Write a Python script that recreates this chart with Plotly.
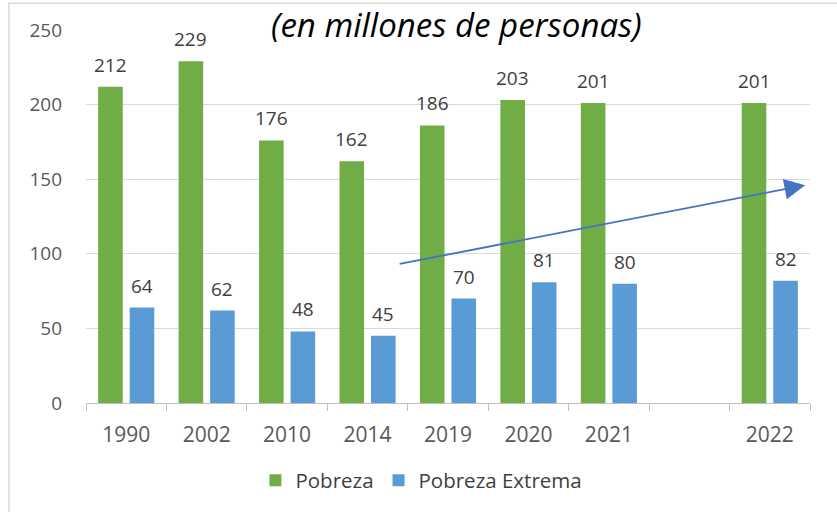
import plotly.graph_objects as go

categories = ["1990", "2002", "2010", "2014", "2019", "2020", "2021", "", "2022"]
pobreza = [212, 229, 176, 162, 186, 203, 201, None, 201]
pobreza_extrema = [64, 62, 48, 45, 70, 81, 80, None, 82]

title_text = "(en millones de personas)"
series_names = ["Pobreza", "Pobreza Extrema"]
colors = ["#70AD47", "#5B9BD5"]

# trend arrow (data coordinates: category index, value)
arrow_tail = (3.38, 93)
arrow_head = (8.44, 146)

positions = list(range(len(categories)))
boundaries = [p - 0.5 for p in positions] + [positions[-1] + 0.5]

FONT = "Open Sans"
fig = go.Figure()
for name, vals, col in zip(series_names, [pobreza, pobreza_extrema], colors):
    fig.add_trace(go.Bar(x=positions, y=vals, name=name, marker_color=col,
                         marker_line_width=0))

annotations = []
shift = 15.75
for vals, xs in [(pobreza, -shift), (pobreza_extrema, shift)]:
    for p, v in zip(positions, vals):
        if v is None:
            continue
        annotations.append(dict(x=p, y=v, xref="x", yref="y", text=str(v),
                                showarrow=False, xshift=xs, yshift=7,
                                yanchor="bottom",
                                font=dict(family=FONT, size=19, color="#404040")))

annotations.append(dict(x=arrow_head[0], y=arrow_head[1], ax=arrow_tail[0], ay=arrow_tail[1],
                        xref="x", yref="y", axref="x", ayref="y", text="",
                        showarrow=True, arrowhead=2, arrowsize=2.3, arrowwidth=1.8,
                        arrowcolor="#4472C4"))

annotations.append(dict(x=0.512, y=1.016, xref="paper", yref="paper", text=title_text,
                        showarrow=False, xanchor="center", yanchor="middle",
                        font=dict(family=FONT, size=33, color="#000000", style="italic")))

fig.update_layout(
    width=837, height=512,
    margin=dict(l=86, r=27, t=30, b=106),
    paper_bgcolor="white", plot_bgcolor="white",
    barmode="group", bargap=0.216, bargroupgap=0.22,
    annotations=annotations,
    showlegend=True,
    legend=dict(orientation="h", x=0.4633, xanchor="center", y=-0.2073, yanchor="middle",
                font=dict(family=FONT, size=20.5, color="#404040"), traceorder="normal"),
    shapes=[dict(type="rect", xref="paper", yref="paper", x0=-0.1064, x1=1.05,
                 y0=-0.4, y1=1.0718, line=dict(color="#D9D9D9", width=1.5),
                 fillcolor="rgba(0,0,0,0)", layer="below")],
)
fig.update_yaxes(range=[0, 250], dtick=50, showgrid=True, gridcolor="#D9D9D9", gridwidth=1,
                 zeroline=False, showline=False, ticks="", automargin=False,
                 tickfont=dict(family=FONT, size=19, color="#595959"),
                 ticklabelstandoff=23)
fig.update_xaxes(range=[-0.5, len(categories) - 0.5], showline=True, linecolor="#BFBFBF",
                 linewidth=1.2, tickmode="array", tickvals=positions, ticktext=categories,
                 ticks="", zeroline=False, showgrid=False, automargin=False,
                 minor=dict(tickmode="array", tickvals=boundaries, ticks="outside",
                            ticklen=7, tickcolor="#BFBFBF", showgrid=False),
                 tickfont=dict(family=FONT, size=21, color="#595959"),
                 ticklabelstandoff=13)

fig.write_html("out.html", config={"displayModeBar": False},
               post_script="document.body.style.margin='0';")
